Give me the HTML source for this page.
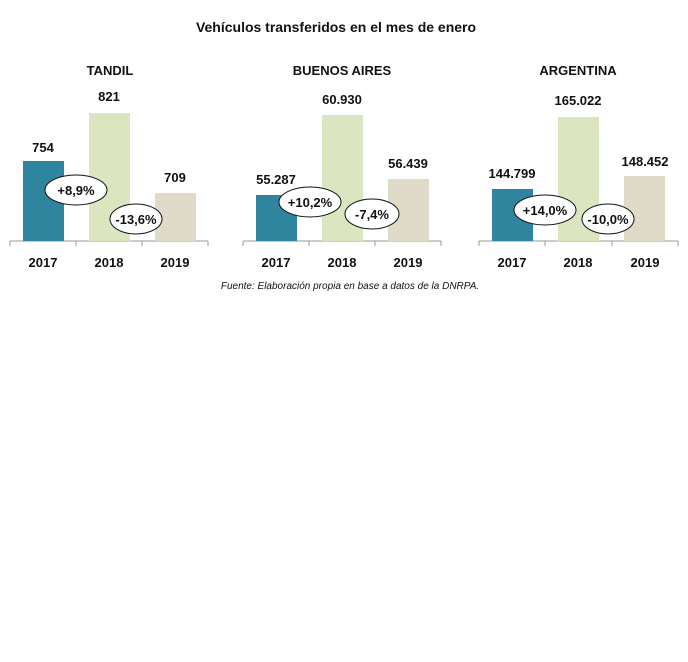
<!DOCTYPE html>
<html><head><meta charset="utf-8"><style>
html,body{margin:0;padding:0;background:#fff;width:688px;height:662px;overflow:hidden}
svg text{font-family:"Liberation Sans",sans-serif;font-weight:bold;fill:#111}
svg text.fn{font-weight:normal;font-style:italic}
</style></head><body>
<svg width="688" height="662" viewBox="0 0 688 662">
<text x="336" y="32" text-anchor="middle" font-size="14">Vehículos transferidos en el mes de enero</text>
<text x="110" y="75" text-anchor="middle" font-size="13">TANDIL</text>
<text x="342" y="75" text-anchor="middle" font-size="13">BUENOS AIRES</text>
<text x="578" y="75" text-anchor="middle" font-size="13">ARGENTINA</text>
<g stroke="#999" stroke-width="1" fill="none">
<path d="M10 241H208M10 241v5M76 241v5M142 241v5M208 241v5"/>
<path d="M243 241H441M243 241v5M309 241v5M375 241v5M441 241v5"/>
<path d="M479 241H678M479 241v5M545 241v5M612 241v5M678 241v5"/>
</g>
<rect x="23" y="161" width="41" height="80" fill="#2f849e"/>
<rect x="89" y="113" width="41" height="128" fill="#dbe5c0"/>
<rect x="155" y="193" width="41" height="48" fill="#e0dbc8"/>
<rect x="256" y="195" width="41" height="46" fill="#2f849e"/>
<rect x="322" y="115" width="41" height="126" fill="#dbe5c0"/>
<rect x="388" y="179" width="41" height="62" fill="#e0dbc8"/>
<rect x="492" y="189" width="41" height="52" fill="#2f849e"/>
<rect x="558" y="117" width="41" height="124" fill="#dbe5c0"/>
<rect x="624" y="176" width="41" height="65" fill="#e0dbc8"/>
<g font-size="13" text-anchor="middle">
<text x="43" y="152">754</text><text x="109" y="101">821</text><text x="175" y="182">709</text>
<text x="276" y="184">55.287</text><text x="342" y="104">60.930</text><text x="408" y="168">56.439</text>
<text x="512" y="178">144.799</text><text x="578" y="105">165.022</text><text x="645" y="166">148.452</text>
<text x="43" y="267">2017</text><text x="109" y="267">2018</text><text x="175" y="267">2019</text>
<text x="276" y="267">2017</text><text x="342" y="267">2018</text><text x="408" y="267">2019</text>
<text x="512" y="267">2017</text><text x="578" y="267">2018</text><text x="645" y="267">2019</text>
</g>
<g fill="#fff" stroke="#111" stroke-width="1">
<ellipse cx="76" cy="190" rx="31" ry="15"/><ellipse cx="136" cy="219" rx="26" ry="15"/>
<ellipse cx="310" cy="202" rx="31" ry="15"/><ellipse cx="372" cy="214" rx="27" ry="15"/>
<ellipse cx="545" cy="210" rx="31" ry="15"/><ellipse cx="608" cy="219" rx="26" ry="15"/>
</g>
<g font-size="13" text-anchor="middle">
<text x="76" y="195">+8,9%</text><text x="136" y="224">-13,6%</text>
<text x="310" y="207">+10,2%</text><text x="372" y="219">-7,4%</text>
<text x="545" y="215">+14,0%</text><text x="608" y="224">-10,0%</text>
</g>
<text class="fn" x="350" y="289" text-anchor="middle" font-size="10">Fuente: Elaboración propia en base a datos de la DNRPA.</text>
</svg>
</body></html>
